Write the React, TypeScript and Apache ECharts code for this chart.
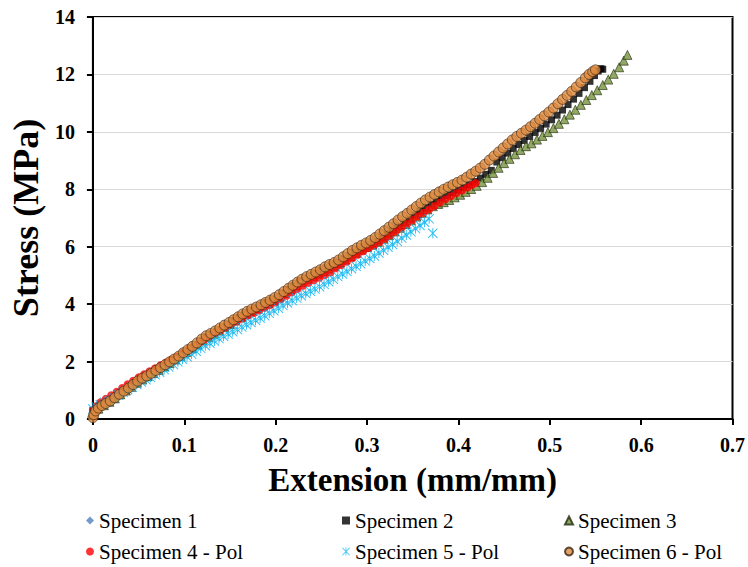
import React, { useEffect, useRef } from "react";
import * as echarts from "echarts";

const FONT = "'Liberation Serif', 'Times New Roman', Times, 'DejaVu Serif', serif";

const seriesNames = [
  "Specimen 1",
  "Specimen 2",
  "Specimen 3",
  "Specimen 4 - Pol",
  "Specimen 5 - Pol",
  "Specimen 6 - Pol",
];

const xTicks = [0, 0.1, 0.2, 0.3, 0.4, 0.5, 0.6, 0.7];
const yTicks = [0, 2, 4, 6, 8, 10, 12, 14];

// Specimen 1
const s1X = [0.000,0.004,0.010,0.018,0.026,0.034,0.042,0.050,0.058,0.066,0.074,0.082,0.090,0.098,0.106,0.114,0.122,0.130,0.138,0.146,0.154,0.162,0.170,0.178,0.186,0.194,0.202,0.210,0.218,0.226,0.234,0.242,0.250,0.258,0.266,0.274,0.282,0.290,0.298,0.306,0.314,0.322,0.330];
const s1Y = [0.22,0.38,0.50,0.63,0.82,0.99,1.18,1.36,1.51,1.64,1.80,1.96,2.13,2.29,2.47,2.64,2.84,2.97,3.12,3.28,3.44,3.60,3.74,3.86,3.99,4.12,4.27,4.45,4.62,4.80,4.95,5.08,5.21,5.34,5.47,5.62,5.80,5.94,6.08,6.22,6.40,6.60,6.80];

// Specimen 2
const s2X = [0.000,0.004,0.010,0.016,0.022,0.028,0.034,0.040,0.046,0.052,0.058,0.064,0.070,0.076,0.082,0.088,0.094,0.100,0.106,0.112,0.118,0.124,0.130,0.136,0.142,0.148,0.154,0.160,0.166,0.172,0.178,0.184,0.190,0.196,0.202,0.208,0.214,0.220,0.226,0.232,0.238,0.244,0.250,0.256,0.262,0.268,0.274,0.280,0.286,0.292,0.298,0.304,0.310,0.316,0.322,0.328,0.334,0.340,0.346,0.352,0.358,0.364,0.370,0.376,0.382,0.388,0.394,0.400,0.406,0.412,0.418,0.424,0.430,0.436,0.442,0.448,0.454,0.460,0.466,0.472,0.478,0.484,0.490,0.496,0.502,0.508,0.514,0.520,0.526,0.532,0.538,0.544,0.549,0.553,0.556,0.558];
const s2Y = [0.30,0.40,0.50,0.60,0.70,0.82,0.96,1.10,1.24,1.38,1.49,1.59,1.71,1.83,1.95,2.07,2.18,2.31,2.44,2.58,2.72,2.86,2.96,3.06,3.18,3.30,3.42,3.54,3.66,3.77,3.86,3.96,4.05,4.14,4.25,4.38,4.51,4.64,4.77,4.89,4.98,5.07,5.16,5.27,5.36,5.45,5.56,5.68,5.80,5.92,6.00,6.08,6.18,6.30,6.43,6.57,6.71,6.84,6.97,7.10,7.24,7.37,7.48,7.59,7.69,7.79,7.88,7.97,8.06,8.16,8.27,8.39,8.52,8.66,8.95,9.10,9.26,9.42,9.56,9.70,9.84,9.98,10.12,10.27,10.42,10.58,10.76,10.95,11.14,11.34,11.54,11.76,11.96,12.12,12.20,12.18];

// Specimen 3
const s3X = [0.000,0.006,0.012,0.018,0.024,0.030,0.036,0.042,0.048,0.054,0.060,0.066,0.072,0.078,0.084,0.090,0.096,0.102,0.108,0.114,0.120,0.126,0.132,0.138,0.144,0.150,0.156,0.162,0.168,0.174,0.180,0.186,0.192,0.198,0.204,0.210,0.216,0.222,0.228,0.234,0.240,0.246,0.252,0.258,0.264,0.270,0.276,0.282,0.288,0.294,0.300,0.306,0.312,0.318,0.324,0.330,0.336,0.342,0.348,0.354,0.360,0.366,0.372,0.378,0.384,0.390,0.396,0.402,0.408,0.414,0.420,0.426,0.432,0.438,0.444,0.450,0.456,0.462,0.468,0.474,0.480,0.486,0.492,0.498,0.504,0.510,0.516,0.522,0.528,0.534,0.540,0.546,0.552,0.558,0.564,0.570,0.576,0.581,0.585];
const s3Y = [0.20,0.36,0.48,0.60,0.72,0.86,0.99,1.12,1.26,1.38,1.49,1.60,1.71,1.83,1.95,2.07,2.20,2.33,2.46,2.60,2.74,2.86,2.97,3.08,3.20,3.31,3.43,3.55,3.67,3.77,3.86,3.95,4.04,4.14,4.26,4.39,4.52,4.65,4.77,4.88,4.97,5.06,5.15,5.25,5.34,5.44,5.55,5.67,5.79,5.90,5.99,6.07,6.17,6.28,6.40,6.53,6.66,6.79,6.92,7.05,7.18,7.30,7.41,7.49,7.55,7.63,7.72,7.81,7.91,8.01,8.12,8.25,8.40,8.57,8.75,8.91,9.06,9.22,9.37,9.50,9.60,9.73,9.86,9.99,10.13,10.28,10.44,10.60,10.77,10.94,11.11,11.28,11.45,11.63,11.82,12.02,12.25,12.48,12.68];

// Specimen 4 - Pol
const s4X = [0.000,0.004,0.008,0.014,0.020,0.026,0.032,0.038,0.044,0.050,0.056,0.062,0.068,0.074,0.080,0.086,0.092,0.098,0.104,0.110,0.116,0.122,0.128,0.134,0.140,0.146,0.152,0.158,0.164,0.170,0.176,0.182,0.188,0.194,0.200,0.206,0.212,0.218,0.224,0.230,0.236,0.242,0.248,0.254,0.260,0.266,0.272,0.278,0.284,0.290,0.296,0.302,0.308,0.314,0.320,0.326,0.332,0.338,0.344,0.350,0.356,0.362,0.368,0.374,0.380,0.386,0.392,0.398,0.404,0.410,0.415,0.419];
const s4Y = [0.30,0.45,0.58,0.70,0.83,0.95,1.08,1.21,1.33,1.45,1.56,1.66,1.77,1.87,1.97,2.07,2.17,2.28,2.39,2.51,2.63,2.76,2.88,2.99,3.09,3.19,3.30,3.40,3.50,3.60,3.69,3.78,3.87,3.96,4.06,4.17,4.29,4.41,4.53,4.64,4.74,4.83,4.92,5.01,5.10,5.25,5.36,5.48,5.60,5.72,5.84,5.95,6.05,6.16,6.28,6.41,6.54,6.67,6.80,6.93,7.06,7.18,7.30,7.42,7.54,7.65,7.76,7.86,7.96,8.06,8.15,8.22];

// Specimen 5 - Pol
const s5X = [0.000,0.004,0.008,0.013,0.018,0.023,0.028,0.033,0.038,0.043,0.048,0.053,0.058,0.063,0.068,0.073,0.078,0.083,0.088,0.093,0.098,0.103,0.108,0.113,0.118,0.123,0.128,0.133,0.138,0.143,0.148,0.153,0.158,0.163,0.168,0.173,0.178,0.183,0.188,0.193,0.198,0.203,0.208,0.213,0.218,0.223,0.228,0.233,0.238,0.243,0.248,0.253,0.258,0.263,0.268,0.273,0.278,0.283,0.288,0.293,0.298,0.303,0.308,0.313,0.318,0.323,0.328,0.333,0.338,0.343,0.348,0.353,0.358,0.363,0.368,0.372];
const s5Y = [0.35,0.42,0.50,0.58,0.66,0.75,0.84,0.93,1.02,1.11,1.20,1.29,1.37,1.45,1.54,1.63,1.72,1.81,1.90,1.99,2.08,2.17,2.26,2.36,2.46,2.55,2.64,2.72,2.80,2.88,2.96,3.04,3.12,3.20,3.28,3.36,3.44,3.52,3.60,3.68,3.77,3.86,3.95,4.04,4.13,4.21,4.29,4.37,4.45,4.53,4.61,4.69,4.78,4.87,4.96,5.05,5.14,5.23,5.32,5.41,5.50,5.59,5.68,5.78,5.88,5.98,6.08,6.19,6.30,6.41,6.52,6.63,6.74,6.85,6.97,6.47];

// Specimen 6 - Pol
const s6X = [0.000,0.001,0.003,0.006,0.010,0.014,0.019,0.024,0.029,0.034,0.039,0.044,0.049,0.054,0.059,0.064,0.069,0.074,0.079,0.084,0.089,0.094,0.099,0.104,0.109,0.114,0.119,0.124,0.129,0.134,0.139,0.144,0.149,0.154,0.159,0.164,0.169,0.174,0.179,0.184,0.189,0.194,0.199,0.204,0.209,0.214,0.219,0.224,0.229,0.234,0.239,0.244,0.249,0.254,0.259,0.264,0.269,0.274,0.279,0.284,0.289,0.294,0.299,0.304,0.309,0.314,0.319,0.324,0.329,0.334,0.339,0.344,0.349,0.354,0.359,0.364,0.369,0.374,0.379,0.384,0.389,0.394,0.399,0.404,0.409,0.414,0.419,0.424,0.429,0.434,0.439,0.444,0.449,0.454,0.459,0.464,0.469,0.474,0.479,0.484,0.489,0.494,0.499,0.504,0.509,0.514,0.519,0.524,0.529,0.534,0.539,0.543,0.547,0.550];
const s6Y = [0.05,0.15,0.28,0.38,0.47,0.54,0.63,0.74,0.86,0.97,1.08,1.20,1.32,1.42,1.50,1.59,1.69,1.79,1.89,1.99,2.09,2.19,2.31,2.42,2.53,2.65,2.78,2.90,2.98,3.07,3.17,3.27,3.36,3.46,3.56,3.66,3.75,3.83,3.90,3.98,4.06,4.14,4.23,4.33,4.44,4.55,4.66,4.77,4.87,4.96,5.04,5.12,5.20,5.30,5.38,5.45,5.54,5.65,5.76,5.87,5.96,6.05,6.13,6.22,6.32,6.44,6.56,6.68,6.80,6.93,7.05,7.16,7.28,7.40,7.52,7.63,7.73,7.82,7.91,8.00,8.08,8.16,8.24,8.32,8.42,8.53,8.63,8.74,8.87,9.02,9.16,9.30,9.44,9.58,9.72,9.84,9.95,10.06,10.18,10.30,10.43,10.56,10.69,10.83,10.98,11.13,11.27,11.41,11.56,11.72,11.88,12.00,12.10,12.16];

const zip = (xs: number[], ys: number[]) => xs.map((x, i) => [x, ys[i]]);

const STAR =
  "path://M4.5 0 L5.5 0 L5.5 10 L4.5 10 Z M0.7 0 L10 9.3 L9.3 10 L0 0.7 Z M9.3 0 L10 0.7 L0.7 10 L0 9.3 Z";

const legendPos = [
  [86, 510],
  [342, 510],
  [564, 510],
  [86, 541],
  [342, 541],
  [564, 541],
];

export default function App() {
  const ref = useRef<HTMLDivElement>(null);
  useEffect(() => {
    if (!ref.current) return;
    const chart = echarts.init(ref.current, null, { renderer: "svg" });

    const series: any[] = [
      { name: seriesNames[0], type: "scatter", data: zip(s1X, s1Y), symbol: "diamond", symbolSize: 8, itemStyle: { color: "#4F81BD" } },
      { name: seriesNames[1], type: "scatter", data: zip(s2X, s2Y), symbol: "rect", symbolSize: 7, itemStyle: { color: "#000000" } },
      { name: seriesNames[2], type: "scatter", data: zip(s3X, s3Y), symbol: "triangle", symbolSize: 9, itemStyle: { color: "#77933C", borderColor: "#1f2a0c", borderWidth: 0.8 } },
      { name: seriesNames[3], type: "scatter", data: zip(s4X, s4Y), symbol: "circle", symbolSize: 8, itemStyle: { color: "#FF0000" } },
      { name: seriesNames[4], type: "scatter", data: zip(s5X, s5Y), symbol: STAR, symbolSize: 10, itemStyle: { color: "#00B0F0" } },
      { name: seriesNames[5], type: "scatter", data: zip(s6X, s6Y), symbol: "circle", symbolSize: 10, itemStyle: { color: "#DD8A3E", borderColor: "#3a2613", borderWidth: 0.8 } },
    ];

    const legend = seriesNames.map((n, i) => ({
      data: [n],
      left: legendPos[i][0],
      top: legendPos[i][1],
      padding: 0,
      itemGap: 0,
      itemWidth: 8,
      itemHeight: 8,
      textStyle: { fontFamily: FONT, fontSize: 21, color: "#000" },
    }));

    chart.setOption({
      animation: false,
      backgroundColor: "#ffffff",
      textStyle: { fontFamily: FONT },
      grid: { left: 87, right: 13, top: 17, bottom: 148, show: true, borderColor: "#000", borderWidth: 2 },
      legend,
      xAxis: {
        type: "value",
        min: xTicks[0],
        max: xTicks[xTicks.length - 1],
        interval: 0.1,
        name: "Extension (mm/mm)",
        nameLocation: "middle",
        nameGap: 44,
        nameTextStyle: { fontFamily: FONT, fontSize: 33, fontWeight: "bold", color: "#000" },
        axisLine: { show: true, onZero: false, lineStyle: { color: "#000", width: 2 } },
        axisTick: { show: true, inside: false, length: 6, lineStyle: { color: "#000", width: 2 } },
        axisLabel: {
          fontFamily: FONT, fontSize: 20, fontWeight: "bold", color: "#000", margin: 16,
          formatter: (v: number) => String(Math.round(v * 10) / 10),
        },
        splitLine: { show: false },
      },
      yAxis: {
        type: "value",
        min: yTicks[0],
        max: yTicks[yTicks.length - 1],
        interval: 2,
        name: "Stress (MPa)",
        nameLocation: "middle",
        nameGap: 38,
        nameTextStyle: { fontFamily: FONT, fontSize: 36, fontWeight: "bold", color: "#000" },
        axisLine: { show: true, onZero: false, lineStyle: { color: "#000", width: 2 } },
        axisTick: { show: true, inside: false, length: 6, lineStyle: { color: "#000", width: 2 } },
        axisLabel: { fontFamily: FONT, fontSize: 20, fontWeight: "bold", color: "#000", margin: 18 },
        splitLine: { show: true, lineStyle: { color: "#D9D9D9", width: 1 } },
      },
      series,
    });

    return () => chart.dispose();
  }, []);

  return <div ref={ref} style={{ width: 748, height: 567, position: "absolute", left: 0, top: 0 }} />;
}
